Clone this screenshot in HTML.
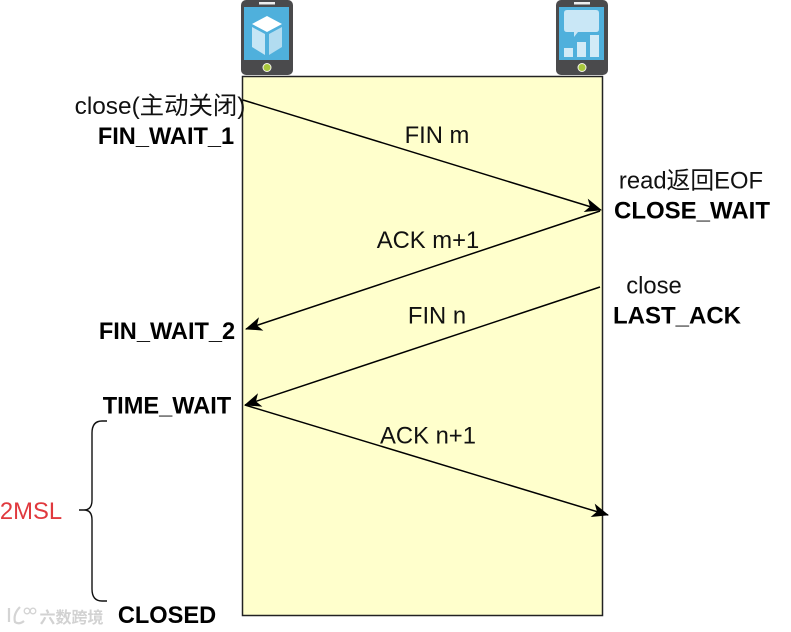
<!DOCTYPE html>
<html>
<head>
<meta charset="utf-8">
<style>
html,body{margin:0;padding:0;background:#fff;width:791px;height:632px;overflow:hidden}
svg{display:block}
text{font-family:"Liberation Sans","Noto Sans CJK SC",sans-serif;font-size:23.8px;fill:#111;text-anchor:middle}
.b{font-weight:bold;fill:#000;font-size:23.6px}
</style>
</head>
<body>
<svg width="791" height="632" viewBox="0 0 791 632" xmlns="http://www.w3.org/2000/svg">
<defs>
<marker id="a" markerWidth="18" markerHeight="16" refX="16" refY="7" orient="auto" markerUnits="userSpaceOnUse" viewBox="0 0 18 14">
<path d="M0 0 L17 7 L0 14 L4.500 7 Z" fill="#000"/>
</marker>
</defs>
<rect x="242.500" y="76.500" width="360" height="539" fill="#ffffcc" stroke="#222" stroke-width="1.500"/>

<!-- left phone -->
<g>
<rect x="241" y="0" width="52" height="75" rx="5" fill="#4a4a4c"/>
<rect x="259" y="2" width="16" height="2.500" fill="#eee"/>
<rect x="244" y="7" width="45" height="53" fill="#4fb0dc"/>
<path d="M267 16 L282 24 L267 32 L252 24 Z" fill="#fff"/>
<path d="M252 27 L265 34 L265 55 L252 47 Z" fill="#c6e6f5"/>
<path d="M282 27 L269 34 L269 55 L282 47 Z" fill="#b2dcf0"/>
<circle cx="267" cy="67.500" r="4" fill="#a8c83c" stroke="#f4f4e8" stroke-width="1"/>
</g>

<!-- right phone -->
<g>
<rect x="556" y="0" width="52" height="75" rx="5" fill="#4a4a4c"/>
<rect x="574" y="2" width="16" height="2.500" fill="#eee"/>
<rect x="559" y="7" width="45" height="53" fill="#4fb0dc"/>
<path d="M567 10 H596 Q599 10 599 13 V29 Q599 32 596 32 H578 L574 37 V32 H567 Q564 32 564 29 V13 Q564 10 567 10 Z" fill="#c9e7f6"/>
<rect x="564" y="48" width="9" height="9" fill="#d2ebf7"/>
<rect x="577" y="42" width="9" height="15" fill="#d2ebf7"/>
<rect x="590" y="35" width="9" height="22" fill="#d2ebf7"/>
<circle cx="582" cy="67.500" r="4" fill="#a8c83c" stroke="#f4f4e8" stroke-width="1"/>
</g>

<!-- arrows -->
<g stroke="#000" stroke-width="1.500" fill="none">
<line x1="243" y1="100" x2="601" y2="210" marker-end="url(#a)"/>
<line x1="600" y1="211" x2="246" y2="329" marker-end="url(#a)"/>
<line x1="600" y1="287" x2="245" y2="405" marker-end="url(#a)"/>
<line x1="245" y1="405" x2="608" y2="515" marker-end="url(#a)"/>
</g>

<!-- brace -->
<path d="M107 421 H102 Q92 421 92 433 V500 Q92 510 84 510 H79 H84 Q92 510 92 520 V589 Q92 601 102 601 H107" fill="none" stroke="#111" stroke-width="1.400"/>

<!-- labels -->
<text x="160" y="114" style="font-size:24.400px">close(主动关闭)</text>
<text class="b" x="166" y="144">FIN_WAIT_1</text>
<text x="437" y="143">FIN m</text>
<text x="691" y="188.500">read返回EOF</text>
<text class="b" x="692" y="218.500" style="font-size:24px">CLOSE_WAIT</text>
<text x="428" y="248">ACK m+1</text>
<text x="654" y="293.500">close</text>
<text class="b" x="677" y="323.500" style="font-size:24px">LAST_ACK</text>
<text x="437" y="323.500">FIN n</text>
<text class="b" x="167" y="339">FIN_WAIT_2</text>
<text class="b" x="167" y="413.500">TIME_WAIT</text>
<text x="428" y="443.500">ACK n+1</text>
<text x="31" y="519" style="fill:#e0393e">2MSL</text>
<text class="b" x="167" y="623">CLOSED</text>

<!-- watermark -->
<text x="71.500" y="623" style="font-size:16px;fill:#d2d2d2;font-weight:bold">六数跨境</text>
<path d="M9 608 V622 M20 607 Q13 614 15 622 Q19 625 24 621" fill="none" stroke="#d4d4d4" stroke-width="2.200"/>
<circle cx="27" cy="611" r="2.800" fill="none" stroke="#d4d4d4" stroke-width="1.300"/>
<circle cx="33" cy="611" r="2.800" fill="none" stroke="#d4d4d4" stroke-width="1.300"/>
</svg>
</body>
</html>
